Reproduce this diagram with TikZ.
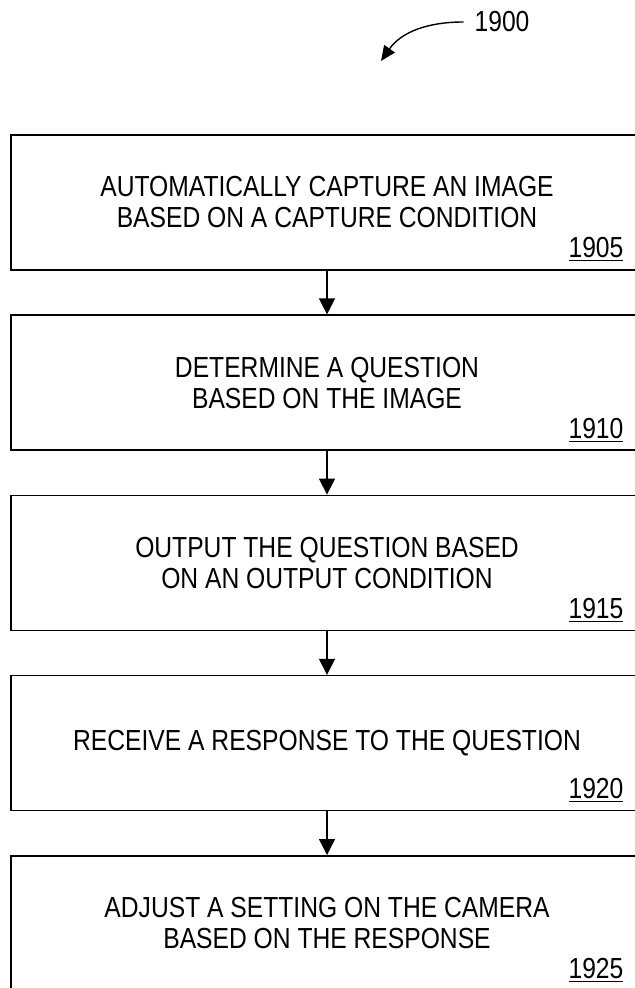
\documentclass[tikz,border=0pt]{standalone}
\usepackage{fontspec}
\setmainfont{Liberation Sans}[FakeStretch=0.85]
\usepackage{tikz}
\usetikzlibrary{positioning, calc, shapes, arrows, arrows.meta, fit}

\begin{document}
\begin{tikzpicture}[
            node distance=21.8pt,
            stepbox/.style={draw, line width=0.8pt, rectangle, minimum width=316pt,
                minimum height=67.5pt, align=center, inner sep=0pt,
                font=\fontsize{14.5pt}{15.5pt}\selectfont},
            reflbl/.style={anchor=base east, inner sep=0pt,
                font=\fontsize{14.5pt}{15.5pt}\selectfont},
            flow/.style={line width=0.7pt, -{Triangle[width=8pt,length=8pt]}}
        ]
            \useasboundingbox (0,0) rectangle (317pt,-494pt);
            % steps
            \node[stepbox] (b1) at (163.5pt,-101.25pt) {AUTOMATICALLY CAPTURE AN IMAGE\\BASED ON A CAPTURE CONDITION};
            \node[stepbox, below=of b1] (b2) {DETERMINE A QUESTION\\BASED ON THE IMAGE};
            \node[stepbox, below=of b2] (b3) {OUTPUT THE QUESTION BASED\\ON AN OUTPUT CONDITION};
            \node[stepbox, below=of b3] (b4) {RECEIVE A RESPONSE TO THE QUESTION};
            \node[stepbox, below=of b4] (b5) {ADJUST A SETTING ON THE CAMERA\\BASED ON THE RESPONSE};
            \foreach \b/\n in {b1/1905, b2/1910, b3/1915, b4/1920, b5/1925}
                \node[reflbl] (\b l) at ($(\b.south east)+(-10pt,6.5pt)$) {\underline{\n}};
            \draw[flow] (b1) -- (b2);
            \draw[flow] (b2) -- (b3);
            \draw[flow] (b3) -- (b4);
            \draw[flow] (b4) -- (b5);
            % figure number
            \node[font=\fontsize{14.5pt}{15.5pt}\selectfont] (fig) at (251pt,-11pt) {1900};
            \coordinate (tip) at (190.5pt,-30.5pt);
            \draw[line width=0.7pt, -{Triangle[width=6.5pt,length=7.5pt]}] ([xshift=-2pt]fig.west) to[out=180, in=55] (tip);
        \end{tikzpicture}
\end{document}
